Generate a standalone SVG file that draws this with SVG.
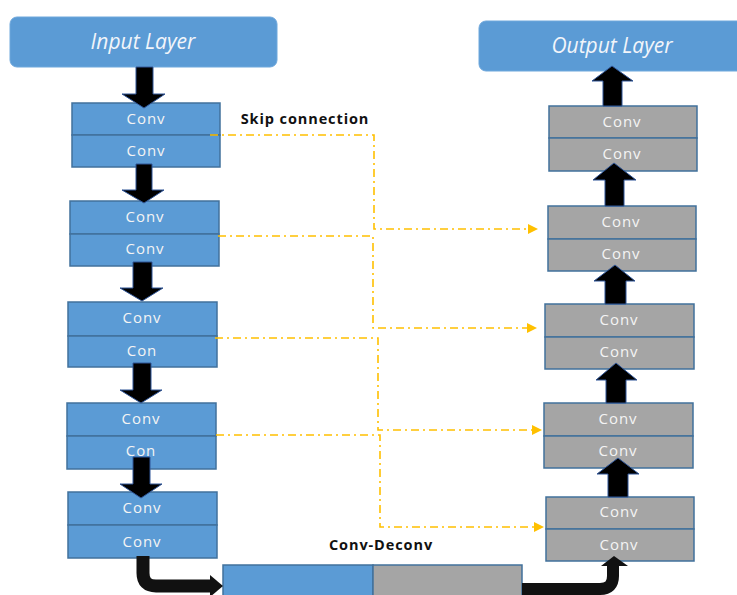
<svg xmlns="http://www.w3.org/2000/svg" width="737" height="595" viewBox="0 0 737 595">
<defs>
<style>
.layer{fill:#5B9BD5;stroke:#6FA8DC;stroke-width:1}
.lt{font-family:"Open Sans","Liberation Sans",sans-serif;font-style:italic;font-size:21px;fill:#F2F5FA;text-anchor:middle}
.b{fill:#5B9BD5;stroke:#41719C;stroke-width:1.5}
.g{fill:#A5A5A5;stroke:#41719C;stroke-width:1.5}
.ct{font-family:"Open Sans","Liberation Sans",sans-serif;font-size:15px;letter-spacing:0.9px;fill:#F4F4F4;text-anchor:middle}
.lbl{font-family:"Open Sans","Liberation Sans",sans-serif;font-weight:bold;font-size:14.5px;letter-spacing:0.9px;fill:#111;text-anchor:middle}
.ba{fill:#000;stroke:#2F5597;stroke-width:1}
.skip{fill:none;stroke:#FFC000;stroke-width:1.6;stroke-dasharray:8 4 2 4}
.oh{fill:#FFC000}
</style>
</defs>
<g id="input-layer">
<rect class="layer" x="10" y="17" width="267" height="50" rx="7"/>
<text class="lt" x="143" y="49">Input Layer</text>
</g>
<g id="output-layer">
<rect class="layer" x="479" y="21" width="270" height="50" rx="7"/>
<text class="lt" x="612" y="53">Output Layer</text>
</g>
<g id="enc1">
<rect class="b" x="72" y="103" width="148" height="32"/>
<rect class="b" x="72" y="135" width="148" height="32"/>
<text class="ct" x="146" y="124">Conv</text>
<text class="ct" x="146" y="156">Conv</text>
</g>
<g id="enc2">
<rect class="b" x="70" y="201" width="149" height="33"/>
<rect class="b" x="70" y="234" width="149" height="32"/>
<text class="ct" x="145" y="222">Conv</text>
<text class="ct" x="145" y="254">Conv</text>
</g>
<g id="enc3">
<rect class="b" x="68" y="302" width="149" height="34"/>
<rect class="b" x="68" y="336" width="149" height="31"/>
<text class="ct" x="142" y="323">Conv</text>
<text class="ct" x="142" y="356">Con</text>
</g>
<g id="enc4">
<rect class="b" x="67" y="403" width="149" height="33"/>
<rect class="b" x="67" y="436" width="149" height="33"/>
<text class="ct" x="141" y="424">Conv</text>
<text class="ct" x="141" y="456">Con</text>
</g>
<g id="enc5">
<rect class="b" x="68" y="492" width="149" height="33"/>
<rect class="b" x="68" y="525" width="149" height="33"/>
<text class="ct" x="142" y="513">Conv</text>
<text class="ct" x="142" y="547">Conv</text>
</g>
<g id="dec1">
<rect class="g" x="549" y="106" width="148" height="32"/>
<rect class="g" x="549" y="138" width="148" height="33"/>
<text class="ct" x="622" y="127">Conv</text>
<text class="ct" x="622" y="159">Conv</text>
</g>
<g id="dec2">
<rect class="g" x="548" y="206" width="148" height="33"/>
<rect class="g" x="548" y="239" width="148" height="32"/>
<text class="ct" x="621" y="227">Conv</text>
<text class="ct" x="621" y="259">Conv</text>
</g>
<g id="dec3">
<rect class="g" x="545" y="304" width="149" height="33"/>
<rect class="g" x="545" y="337" width="149" height="32"/>
<text class="ct" x="619" y="325">Conv</text>
<text class="ct" x="619" y="357">Conv</text>
</g>
<g id="dec4">
<rect class="g" x="544" y="403" width="149" height="33"/>
<rect class="g" x="544" y="436" width="149" height="32"/>
<text class="ct" x="618" y="424">Conv</text>
<text class="ct" x="618" y="456">Conv</text>
</g>
<g id="dec5">
<rect class="g" x="546" y="497" width="148" height="32"/>
<rect class="g" x="546" y="529" width="148" height="32"/>
<text class="ct" x="619" y="517">Conv</text>
<text class="ct" x="619" y="550">Conv</text>
</g>
<g id="conv-deconv">
<rect class="b" x="223" y="565" width="150" height="40"/>
<rect class="g" x="373" y="565" width="149" height="40"/>
</g>
<g id="labels">
<text class="lbl" x="305" y="124">Skip connection</text>
<text class="lbl" x="381" y="550">Conv-Deconv</text>
</g>
<g id="connectors">
<polygon class="ba" points="136,67 153,67 153,94 165,94 144,108 122,94 136,94"/>
<polygon class="ba" points="136,164 152,164 152,190 164,190 144,203 122,190 136,190"/>
<polygon class="ba" points="133,262 152,262 152,288 163,288 142,301 120,288 133,288"/>
<polygon class="ba" points="133,363 151,363 151,390 162,390 141,403 120,390 133,390"/>
<polygon class="ba" points="133,457 150,457 150,484 162,484 141,498 120,484 133,484"/>
<polygon class="ba" points="603,106 622,106 622,81 633,81 612,66 592,81 603,81"/>
<polygon class="ba" points="605,206 624,206 624,180 636,180 614,163 593,180 605,180"/>
<polygon class="ba" points="605,304 626,304 626,281 635,281 615,265 594,281 605,281"/>
<polygon class="ba" points="606,403 626,403 626,380 637,380 616,363 596,380 606,380"/>
<polygon class="ba" points="608,497 628,497 628,474 639,474 618,458 597,474 608,474"/>
<path d="M143,556 V573 Q143,586 156,586 H212" fill="none" stroke="#111" stroke-width="13"/>
<polygon points="210,575 223,586 210,597" fill="#111"/>
<path d="M522,589 H600 Q613,589 613,576 V564" fill="none" stroke="#111" stroke-width="12"/>
<polygon points="601,566 614,556 628,566" fill="#111"/>
<polyline class="skip" points="210,135 374,135 374,229 529,229"/>
<polygon class="oh" points="528,224 538,229 528,234"/>
<polyline class="skip" points="218,236 373,236 373,328 528,328"/>
<polygon class="oh" points="527,323 537,328 527,333"/>
<polyline class="skip" points="215,338 378,338 378,430 533,430"/>
<polygon class="oh" points="532,425 542,430 532,435"/>
<polyline class="skip" points="216,435 380,435 380,527 535,527"/>
<polygon class="oh" points="534,522 544,527 534,532"/>
</g>
</svg>
